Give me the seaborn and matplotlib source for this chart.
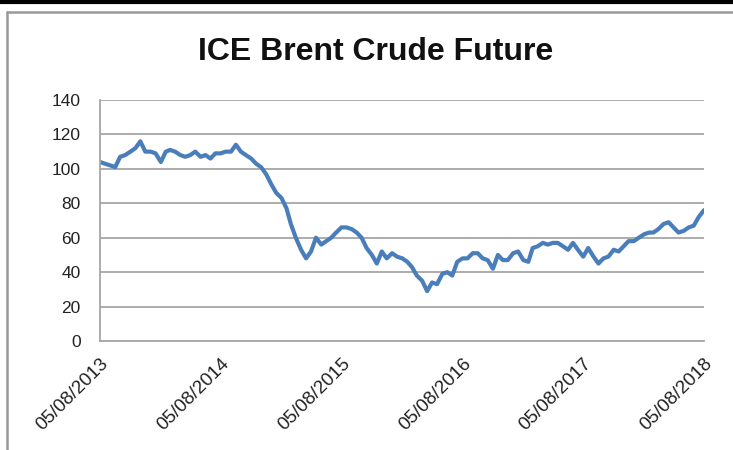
import numpy as np
import pandas as pd
import seaborn as sns
import matplotlib.pyplot as plt
import matplotlib.dates as mdates
from matplotlib.lines import Line2D

# semi-monthly readings (5th / 20th of each month)
start = "2013-08-05"
prices = [104, 103, 102, 101, 107, 108, 110, 112, 116, 110,
          110, 109, 104, 110, 111, 110, 108, 107, 108, 110,
          107, 108, 106, 109, 109, 110, 110, 114, 110, 108,
          106, 103, 101, 97, 91, 86, 83, 77, 68, 60,
          53, 48, 52, 60, 56, 58, 60, 63, 66, 66,
          65, 63, 60, 54, 50, 45, 52, 48, 51, 49,
          48, 46, 43, 38, 35, 29, 34, 33, 39, 40,
          38, 46, 48, 48, 51, 51, 48, 47, 42, 50,
          47, 47, 51, 52, 47, 46, 54, 55, 57, 56,
          57, 57, 55, 53, 57, 53, 49, 54, 49, 45,
          48, 49, 53, 52, 55, 58, 58, 60, 62, 63,
          63, 65, 68, 69, 66, 63, 64, 66, 67, 72,
          76]
tick_dates = ["2013-08-05", "2014-08-05", "2015-08-05",
              "2016-08-05", "2017-08-05", "2018-08-05"]
y_ticks = [0, 20, 40, 60, 80, 100, 120, 140]

dates = []
d = pd.Timestamp(start)
for p in prices:
    dates.append(d)
    d = d.replace(day=20) if d.day == 5 else (d + pd.DateOffset(months=1)).replace(day=5)
df = pd.DataFrame({"date": dates, "price": prices})

sns.set_style("white")
plt.rcParams["font.family"] = ["Liberation Sans", "DejaVu Sans"]

fig = plt.figure(figsize=(7.33, 4.5), dpi=100)
ax = fig.add_axes([0.1364, 0.2422, 0.9604 - 0.1364, 0.7778 - 0.2422])

sns.lineplot(data=df, x="date", y="price", ax=ax, color="#4a7ebb", linewidth=3.0)

ax.set_ylim(0, 140)
ax.set_yticks(y_ticks)
tds = pd.to_datetime(tick_dates)
ax.set_xlim(tds[0], tds[-1])
ax.set_xticks(tds)
ax.xaxis.set_major_formatter(mdates.DateFormatter("%d/%m/%Y"))
ax.set_xlabel("")
ax.set_ylabel("")
ax.yaxis.grid(True, color="#a6a6a6", linewidth=1.3)
ax.set_axisbelow(True)
for s in ["top", "right"]:
    ax.spines[s].set_visible(False)
for s in ["left", "bottom"]:
    ax.spines[s].set_color("#a6a6a6")
    ax.spines[s].set_linewidth(1.3)
ax.tick_params(axis="both", which="major", length=6, width=1.1, color="#a6a6a6",
               labelsize=12.5, labelcolor="#222222", direction="out")
ax.tick_params(axis="x", labelsize=13.5, pad=4)
ax.tick_params(axis="y", pad=8)
plt.setp(ax.get_xticklabels(), rotation=45, ha="right", rotation_mode="anchor")

fig.text(0.512, 0.885, "ICE Brent Crude Future", ha="center", va="center",
         fontsize=23, fontweight="bold", color="#111111")

# outer frame as in the screenshot
fig.add_artist(Line2D([0, 1], [0.996, 0.996], color="black", linewidth=3, transform=fig.transFigure))
fig.add_artist(Line2D([0.0096, 1], [0.973, 0.973], color="#999999", linewidth=1.8, transform=fig.transFigure))
fig.add_artist(Line2D([0.0096, 0.0096], [0, 0.973], color="#999999", linewidth=1.8, transform=fig.transFigure))

fig.savefig("out.png", dpi=100)
